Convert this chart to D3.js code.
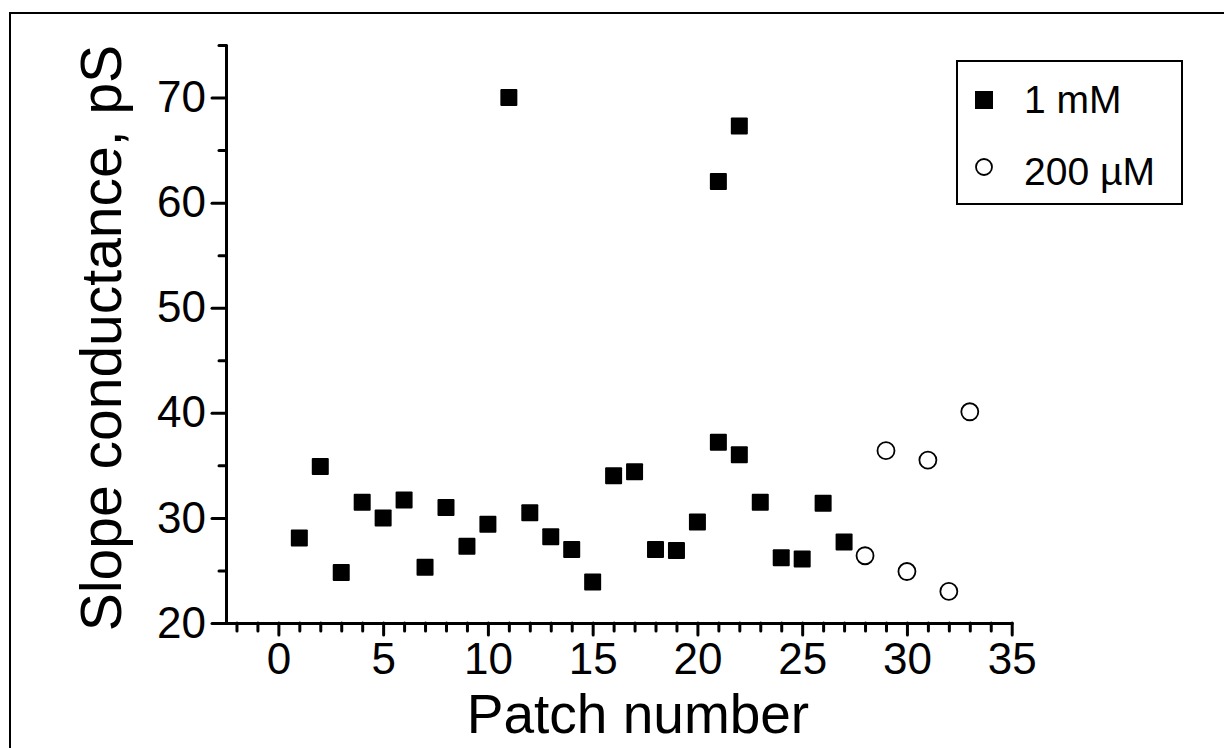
<html>

<head>
	<title>Slope conductance</title>
	<script src="https://d3js.org/d3.v7.min.js"></script>
	<style>
		body {
			margin: 0;
			background: #fff;
		}

		text {
			font-family: "Liberation Sans", Arial, sans-serif;
			fill: #000;
		}
	</style>
</head>

<body>
	<div id="chart"></div>
	<script>
		// 1 mM patches
		let patch1mM = [1, 2, 3, 4, 5, 6, 7, 8, 9, 10, 11, 12, 13, 14, 15, 16, 17, 18, 19, 20, 21, 21, 22, 22, 23, 24, 25, 26, 27];
		let cond1mM = [28.1, 34.9, 24.8, 31.5, 30.0, 31.7, 25.3, 31.0, 27.3, 29.4, 70.0, 30.5, 28.2, 27.0, 23.9, 34.0, 34.4,
			27.0, 26.9, 29.6, 37.2, 62.0, 36.0, 67.3, 31.5, 26.2, 26.1, 31.4, 27.7];

		// 200 uM patches
		let patch200 = [28, 29, 30, 31, 32, 33];
		let cond200 = [26.4, 36.4, 24.9, 35.5, 23.0, 40.1];

		let xMajor = [0, 5, 10, 15, 20, 25, 30, 35];
		let xMinor = d3.range(-2, 36).filter(v => v % 5 != 0);
		let yMajor = [20, 30, 40, 50, 60, 70];
		let yMinor = [25, 35, 45, 55, 65, 75];

		let legendNames = ["1 mM", "200 \u00b5M"];

		let svg = d3.select("#chart").append("svg")
			.attr("width", 1224)
			.attr("height", 748);

		// frame (runs off the right and bottom of the picture)
		svg.append("rect")
			.attr("x", 10)
			.attr("y", 13)
			.attr("width", 1240)
			.attr("height", 760)
			.attr("fill", "none")
			.attr("stroke", "#000")
			.attr("stroke-width", 2);

		let x = d3.scaleLinear().domain([-2.5, 35]).range([226, 1011.7]);
		let y = d3.scaleLinear().domain([20, 75]).range([623, 45]);

		function styleAxis(g) {
			g.selectAll("path, line")
				.attr("stroke", "#000")
				.attr("stroke-width", 3)
				.attr("stroke-linecap", "round");
			g.selectAll("text")
				.attr("font-size", 44)
				.attr("font-family", "Liberation Sans, Arial, sans-serif")
				.attr("fill", "#000");
		}

		// x axis
		svg.append("g")
			.attr("transform", "translate(0,623)")
			.call(d3.axisBottom(x).tickValues(xMinor).tickSize(8).tickFormat(""))
			.call(g => g.select(".domain").remove())
			.call(styleAxis);
		svg.append("g")
			.attr("transform", "translate(0,623)")
			.call(d3.axisBottom(x).tickValues(xMajor).tickSize(12).tickSizeOuter(0).tickPadding(8))
			.call(styleAxis);

		// y axis
		svg.append("g")
			.attr("transform", "translate(226,0)")
			.call(d3.axisLeft(y).tickValues(yMinor).tickSize(7).tickFormat(""))
			.call(g => g.select(".domain").remove())
			.call(styleAxis);
		svg.append("g")
			.attr("transform", "translate(226,0)")
			.call(d3.axisLeft(y).tickValues(yMajor).tickSize(14).tickSizeOuter(0).tickPadding(6))
			.call(styleAxis);

		// titles
		svg.append("text")
			.attr("x", 638)
			.attr("y", 733)
			.attr("text-anchor", "middle")
			.attr("font-size", 55)
			.text("Patch number");

		svg.append("text")
			.attr("transform", "translate(121,338) rotate(-90)")
			.attr("text-anchor", "middle")
			.attr("font-size", 57)
			.text("Slope conductance, pS");

		// points
		let sq = 17;
		svg.append("g").selectAll("rect")
			.data(patch1mM.map((p, i) => ({ x: p, y: cond1mM[i] })))
			.enter().append("rect")
			.attr("x", d => x(d.x) - sq / 2)
			.attr("y", d => y(d.y) - sq / 2)
			.attr("width", sq)
			.attr("height", sq)
			.attr("rx", 1)
			.attr("fill", "#000");

		svg.append("g").selectAll("circle")
			.data(patch200.map((p, i) => ({ x: p, y: cond200[i] })))
			.enter().append("circle")
			.attr("cx", d => x(d.x))
			.attr("cy", d => y(d.y))
			.attr("r", 8.5)
			.attr("fill", "#fff")
			.attr("stroke", "#000")
			.attr("stroke-width", 1.8);

		// legend
		let lg = svg.append("g");
		lg.append("rect")
			.attr("x", 957)
			.attr("y", 61)
			.attr("width", 225)
			.attr("height", 143)
			.attr("fill", "#fff")
			.attr("stroke", "#000")
			.attr("stroke-width", 2);
		lg.append("rect")
			.attr("x", 975)
			.attr("y", 91)
			.attr("width", 18)
			.attr("height", 18)
			.attr("fill", "#000");
		lg.append("circle")
			.attr("cx", 984)
			.attr("cy", 167)
			.attr("r", 8)
			.attr("fill", "#fff")
			.attr("stroke", "#000")
			.attr("stroke-width", 1.8);
		lg.selectAll("text.leg")
			.data(legendNames)
			.enter().append("text")
			.attr("class", "leg")
			.attr("x", 1024)
			.attr("y", (d, i) => 113 + i * 72)
			.attr("font-size", 39)
			.text(d => d);
	</script>
</body>

</html>
